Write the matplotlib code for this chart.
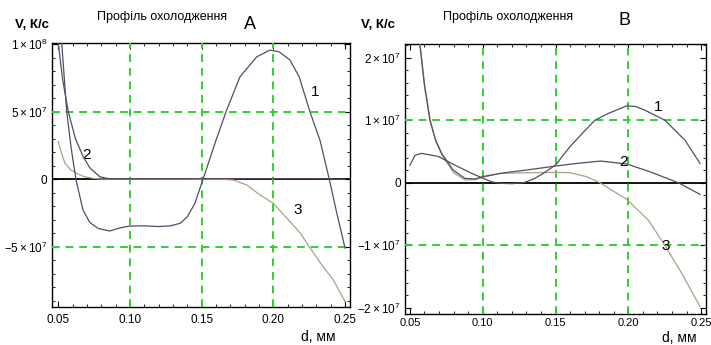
import numpy as np
import matplotlib
matplotlib.use('Agg')
import matplotlib.pyplot as plt
from matplotlib.ticker import MultipleLocator

plt.rcParams['font.family'] = ['Liberation Sans', 'DejaVu Sans']
plt.rcParams['mathtext.fontset'] = 'custom'
plt.rcParams['mathtext.rm'] = 'Liberation Sans'
plt.rcParams['mathtext.it'] = 'Liberation Sans'

# ---- Panel A data (d, mm ; V, K/s) ----
a1_x = [0.0515, 0.0524, 0.0559, 0.0590, 0.0623, 0.0672, 0.072, 0.078, 0.086, 0.093, 0.100,
        0.110, 0.120, 0.128, 0.135, 0.140, 0.1453, 0.1509, 0.1523, 0.160, 0.1674, 0.1767,
        0.1884, 0.1976, 0.2040, 0.2116, 0.218, 0.2255, 0.2325, 0.239, 0.244, 0.250]
a1_y = [11.5, 10.1, 5.0, 2.3, 0.0, -2.27, -3.2, -3.65, -3.83, -3.6, -3.46,
        -3.45, -3.5, -3.45, -3.26, -2.77, -1.78, 0.0, 0.44, 2.9, 5.13, 7.6,
        9.08, 9.58, 9.45, 8.84, 7.6, 5.0, 2.9, 0.0, -2.4, -5.1]
a2_x = [0.0500, 0.0530, 0.057, 0.062, 0.0674, 0.072, 0.079, 0.085, 0.095, 0.11, 0.13,
        0.15, 0.17, 0.19, 0.21, 0.23, 0.25]
a2_y = [10.1, 7.4, 5.0, 3.0, 1.67, 0.85, 0.19, 0.05, 0.03, 0.05, 0.05,
        0.05, 0.05, 0.05, 0.05, 0.05, 0.0]
a3_x = [0.0500, 0.0525, 0.0547, 0.0585, 0.0628, 0.068, 0.0744, 0.080, 0.10, 0.13, 0.165,
        0.172, 0.1814, 0.1907, 0.200, 0.2093, 0.2186, 0.2255, 0.2335, 0.2418, 0.250]
a3_y = [2.8, 1.85, 1.18, 0.72, 0.44, 0.2, 0.07, 0.02, 0.01, 0.01, 0.0,
        -0.05, -0.42, -1.16, -1.78, -2.87, -3.96, -5.07, -6.3, -7.46, -9.07]

# ---- Panel B data ----
b1_x = [0.050, 0.0535, 0.058, 0.0695, 0.081, 0.0924, 0.1004, 0.106, 0.112, 0.120, 0.128,
        0.135, 0.1416, 0.150, 0.160, 0.170, 0.177, 0.1863, 0.1988, 0.2050, 0.2114, 0.2251,
        0.2389, 0.2492]
b1_y = [2.83, 4.4, 4.7, 4.2, 2.8, 1.5, 0.7, 0.16, -0.1, -0.15, 0.0,
        0.6, 1.5, 2.83, 5.8, 8.3, 10.0, 11.1, 12.3, 12.2, 11.6, 10.0,
        6.8, 3.1]
b2_x = [0.0560, 0.0569, 0.060, 0.0637, 0.0675, 0.0718, 0.0798, 0.0878, 0.0947, 0.1004,
        0.115, 0.129, 0.150, 0.165, 0.181, 0.1989, 0.2148, 0.2343, 0.2492]
b2_y = [24, 22, 15.5, 10.0, 6.9, 4.7, 2.0, 0.7, 0.6, 1.0,
        1.6, 2.0, 2.67, 3.1, 3.47, 3.0, 1.76, 0.0, -1.86]
b3_x = [0.0560, 0.0569, 0.060, 0.0640, 0.0680, 0.0720, 0.0800, 0.0878, 0.095, 0.1004,
        0.1118, 0.130, 0.150, 0.160, 0.1714, 0.1805, 0.1989, 0.2138, 0.2250, 0.2367, 0.2492]
b3_y = [24, 22.2, 15.8, 10.0, 6.5, 4.4, 1.6, 0.45, 0.5, 0.9,
        1.5, 1.6, 1.66, 1.6, 0.96, 0.0, -2.67, -6.0, -10.0, -14.5, -19.8]

x_ticks = [0.05, 0.10, 0.15, 0.20, 0.25]
x_ticklabels = ['0.05', '0.10', '0.15', '0.20', '0.25']
a_yticks = [-5e7, 0, 5e7, 1e8]
a_yticklabels = [r'$-5\times10^{7}$', '0', r'$5\times10^{7}$', r'$1\times10^{8}$']
b_yticks = [-2e7, -1e7, 0, 1e7, 2e7]
b_yticklabels = [r'$-2\times10^{7}$', r'$-1\times10^{7}$', '0', r'$1\times10^{7}$', r'$2\times10^{7}$']

c1 = '#4a5068'
c2 = '#5e4860'
c3 = '#a8a286'
green = '#2fd12f'

fig = plt.figure(figsize=(7.11, 3.45), dpi=100)
axA = fig.add_axes([0.0727, 0.111, 0.4195, 0.765])
axB = fig.add_axes([0.5696, 0.0899, 0.4229, 0.7826])


def style(ax, xl, yl, gx, gy, yticks, yticklabels, yminor, xfs, xpad):
    ax.set_xlim(*xl)
    ax.set_ylim(*yl)
    ax.axhline(0, color='black', lw=1.3, zorder=2)
    for g in gx:
        ax.axvline(g, color=green, lw=1.4, dashes=(4, 3), zorder=3)
    for g in gy:
        ax.axhline(g, color=green, lw=1.4, dashes=(4, 3), zorder=3)
    ax.set_xticks(x_ticks)
    ax.set_xticklabels(x_ticklabels, fontsize=xfs)
    ax.set_yticks(yticks)
    ax.set_yticklabels(yticklabels, fontsize=8.5)
    ax.xaxis.set_minor_locator(MultipleLocator(0.01))
    ax.yaxis.set_minor_locator(MultipleLocator(yminor))
    ax.tick_params(which='both', direction='in', top=True, right=True, colors='black')
    ax.tick_params(axis='x', pad=xpad)
    ax.tick_params(axis='y', pad=3)
    ax.tick_params(which='major', length=4, width=0.8)
    ax.tick_params(which='minor', length=2, width=0.6)
    for s in ax.spines.values():
        s.set_linewidth(1.0)


style(axA, (0.0454, 0.2534), (-9.44e7, 1.012e8), [0.10, 0.15, 0.20], [5e7, -5e7],
      a_yticks, a_yticklabels, 1e7, 8.5, 5)
style(axB, (0.0466, 0.2531), (-2.1e7, 2.22e7), [0.10, 0.15, 0.20], [1e7, -1e7],
      b_yticks, b_yticklabels, 2e6, 8, 3)

axA.plot(a3_x, np.array(a3_y) * 1e7, color=c3, lw=0.9, zorder=4)
axA.plot(a2_x, np.array(a2_y) * 1e7, color=c2, lw=0.9, zorder=4)
axA.plot(a1_x, np.array(a1_y) * 1e7, color=c1, lw=0.9, zorder=5)

axB.plot(b3_x, np.array(b3_y) * 1e6, color=c3, lw=0.9, zorder=4)
axB.plot(b2_x, np.array(b2_y) * 1e6, color=c2, lw=0.9, zorder=4)
axB.plot(b1_x, np.array(b1_y) * 1e6, color=c1, lw=0.9, zorder=5)

# curve numbers
axA.text(0.229, 6.47e7, '1', fontsize=11, ha='center', va='center')
axA.text(0.0698, 1.8e7, '2', fontsize=11, ha='center', va='center')
axA.text(0.2168, -2.27e7, '3', fontsize=11, ha='center', va='center')
axB.text(0.2204, 1.21e7, '1', fontsize=11, ha='center', va='center')
axB.text(0.1966, 3.3e6, '2', fontsize=11, ha='center', va='center', zorder=6)
axB.text(0.2259, -1.02e7, '3', fontsize=11, ha='center', va='center', zorder=6)

# titles and axis names
fig.text(0.228, 0.951, 'Профіль охолодження', fontsize=9, ha='center', va='center')
fig.text(0.352, 0.928, 'A', fontsize=13, ha='center', va='center')
fig.text(0.045, 0.928, 'V, К/с', fontsize=9.5, ha='center', va='center', fontweight='bold')
fig.text(0.447, 0.023, 'd, мм', fontsize=10, ha='center', va='center')
fig.text(0.714, 0.951, 'Профіль охолодження', fontsize=9, ha='center', va='center')
fig.text(0.879, 0.942, 'B', fontsize=13, ha='center', va='center')
fig.text(0.532, 0.928, 'V, К/с', fontsize=9.5, ha='center', va='center', fontweight='bold')
fig.text(0.955, 0.02, 'd, мм', fontsize=10, ha='center', va='center')

fig.savefig('out.png', dpi=100)
